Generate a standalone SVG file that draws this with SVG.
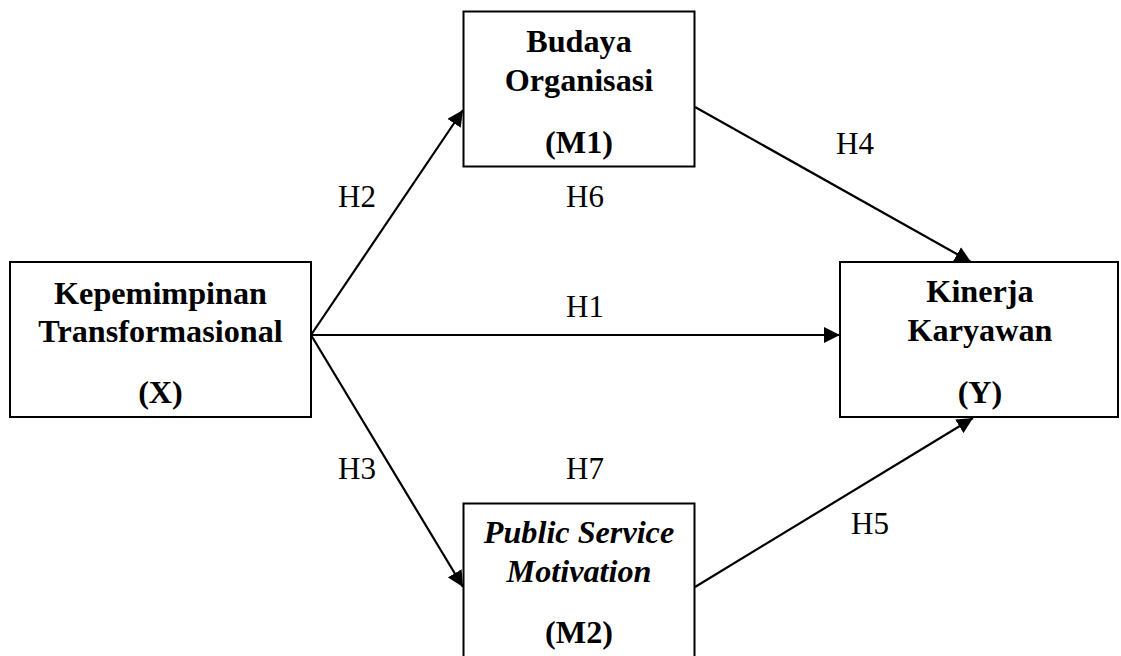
<svg xmlns="http://www.w3.org/2000/svg" width="1121" height="656" viewBox="0 0 1121 656">
<style>
.box{fill:#fff;stroke:#000;stroke-width:2}
.t{font-family:"Liberation Serif","Times New Roman",serif;font-size:32.2px;font-weight:bold;text-anchor:middle;fill:#000}
.i{font-style:italic}
.lbl{font-family:"Liberation Serif","Times New Roman",serif;font-size:31px;fill:#000}
.c{stroke:#000;stroke-width:2.2;fill:none;marker-end:url(#arr)}
</style>
<defs>
<marker id="arr" markerUnits="userSpaceOnUse" markerWidth="17" markerHeight="16" refX="16" refY="8" orient="auto">
<path d="M0,0 L16,8 L0,16 z" fill="#000"/>
</marker>
</defs>
<rect width="1121" height="656" fill="#fff"/>
<g id="connectors">
<line class="c" x1="311" y1="335" x2="463" y2="110"/>
<line class="c" x1="311" y1="335" x2="840" y2="335"/>
<line class="c" x1="311" y1="335" x2="463" y2="587"/>
<line class="c" x1="695" y1="107" x2="971" y2="262"/>
<line class="c" x1="695" y1="587" x2="973" y2="418"/>
<text class="lbl" x="338" y="207">H2</text>
<text class="lbl" x="566" y="207">H6</text>
<text class="lbl" x="836" y="154">H4</text>
<text class="lbl" x="566" y="317">H1</text>
<text class="lbl" x="338" y="479">H3</text>
<text class="lbl" x="566" y="479">H7</text>
<text class="lbl" x="851" y="534">H5</text>
</g>
<g id="node-budaya">
<rect class="box" x="463.5" y="11.5" width="231" height="155"/>
<text class="t" x="579" y="52">Budaya</text>
<text class="t" x="579" y="91">Organisasi</text>
<text class="t" x="579" y="153">(M1)</text>
</g>
<g id="node-kepemimpinan">
<rect class="box" x="10" y="262" width="301" height="155"/>
<text class="t" x="160.5" y="304">Kepemimpinan</text>
<text class="t" x="160.5" y="342">Transformasional</text>
<text class="t" x="160.5" y="403">(X)</text>
</g>
<g id="node-kinerja">
<rect class="box" x="840" y="262" width="278" height="155"/>
<text class="t" x="980" y="302">Kinerja</text>
<text class="t" x="980" y="341">Karyawan</text>
<text class="t" x="980" y="403">(Y)</text>
</g>
<g id="node-psm">
<rect class="box" x="463.5" y="503.5" width="231" height="160"/>
<text class="t i" x="579" y="543">Public Service</text>
<text class="t i" x="579" y="582">Motivation</text>
<text class="t" x="579" y="643">(M2)</text>
</g>
</svg>
